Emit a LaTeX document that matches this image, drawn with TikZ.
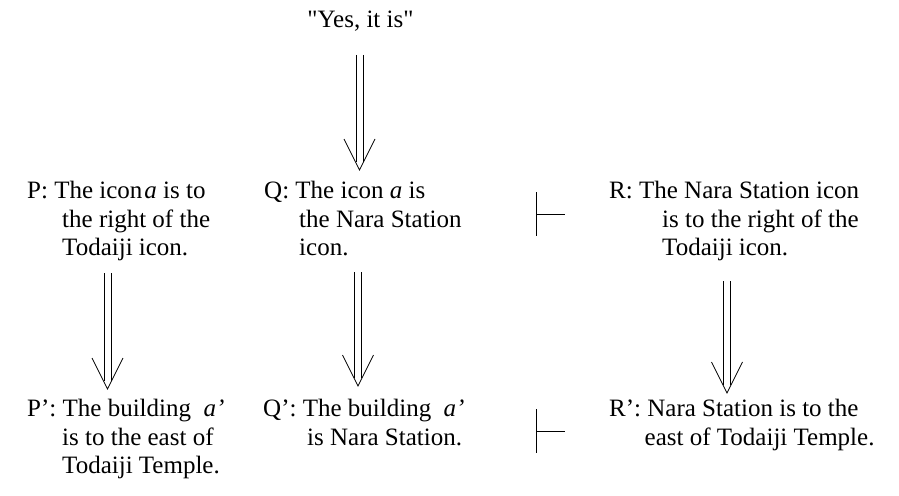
\documentclass[tikz,border=0pt]{standalone}
\usepackage{fontspec}
% plain family (no TeX quote mapping), so " stays a straight quote
\newfontfamily\txtfont{Liberation Serif}
\usetikzlibrary{calc}
% double-shafted implication arrow with an open V head, from #1 down to #2
\newcommand\dblarrow[2]{%
  \draw[implline] ($(#1)+(-3.5,0)$) -- ($(#2)+(-3.5,-8)$);
  \draw[implline] ($(#1)+(3.5,0)$) -- ($(#2)+(3.5,-8)$);
  \draw[implline] ($(#2)+(-15.5,-31)$) -- (#2) -- ($(#2)+(15.5,-31)$);
}
% turnstile: vertical bar through #1, stroke to the right ending at #2
\newcommand\turnstile[2]{%
  \draw[implline] ($(#1)+(0,-22)$) -- ($(#1)+(0,22)$);
  \draw[implline] (#1) -- (#2);
}
\begin{document}
\begin{tikzpicture}[x=1pt,y=-1pt,
  implline/.style={line width=0.8pt, line cap=butt},
  txt/.style={inner sep=0pt, font=\txtfont\fontsize{25}{28.5}\selectfont},
  stmt/.style={txt, anchor=north west, align=left},
]
\useasboundingbox[fill=white] (0,0) rectangle (899,495);

% quoted answer at the top
\node[txt, anchor=base] (yes) at (360.5,28) {"Yes, it is"};

% statements about the icons
\node[stmt] (P) at (27,181) {P: The icon\kern2pt\textit{a} is to\\\hspace*{35pt}the right of the\\\hspace*{35pt}Todaiji icon.};
\node[stmt] (Q) at (264,181) {Q: The icon \textit{a} is\\\hspace*{35pt}the Nara Station\\\hspace*{35pt}icon.};
\node[stmt] (R) at (609,181) {R: The Nara Station icon\\\hspace*{53pt}is to the right of the\\\hspace*{53pt}Todaiji icon.};

% statements about the buildings
\node[stmt] (P') at (27,399) {P’: The building\hspace{0.25em} \textit{a’}\\\hspace*{35pt}is to the east of\\\hspace*{35pt}Todaiji Temple.};
\node[stmt] (Q') at (263,399) {Q’: The building\hspace{0.25em} \textit{a’}\\\hspace*{44pt}is Nara Station.};
\node[stmt] (R') at (609,399) {R’: Nara Station is to the\\\hspace*{35.5pt}east of Todaiji Temple.};

% arrow end points
\coordinate (yesS) at (359.5,55);  \coordinate (qN)  at (359.5,170);
\coordinate (pS)   at (107.5,273); \coordinate (p'N) at (107.5,389);
\coordinate (qS)   at (358,272);   \coordinate (q'N) at (358,386);
\coordinate (rS)   at (727,281);   \coordinate (r'N) at (727,393);

\dblarrow{yesS}{qN}
\dblarrow{pS}{p'N}
\dblarrow{qS}{q'N}
\dblarrow{rS}{r'N}

% turnstiles between Q and R, and between Q' and R'
\coordinate (tq)  at (536,214); \coordinate (tqe)  at (565,214);
\coordinate (tq') at (536,431); \coordinate (tq'e) at (565,431);
\turnstile{tq}{tqe}
\turnstile{tq'}{tq'e}
\end{tikzpicture}
\end{document}
